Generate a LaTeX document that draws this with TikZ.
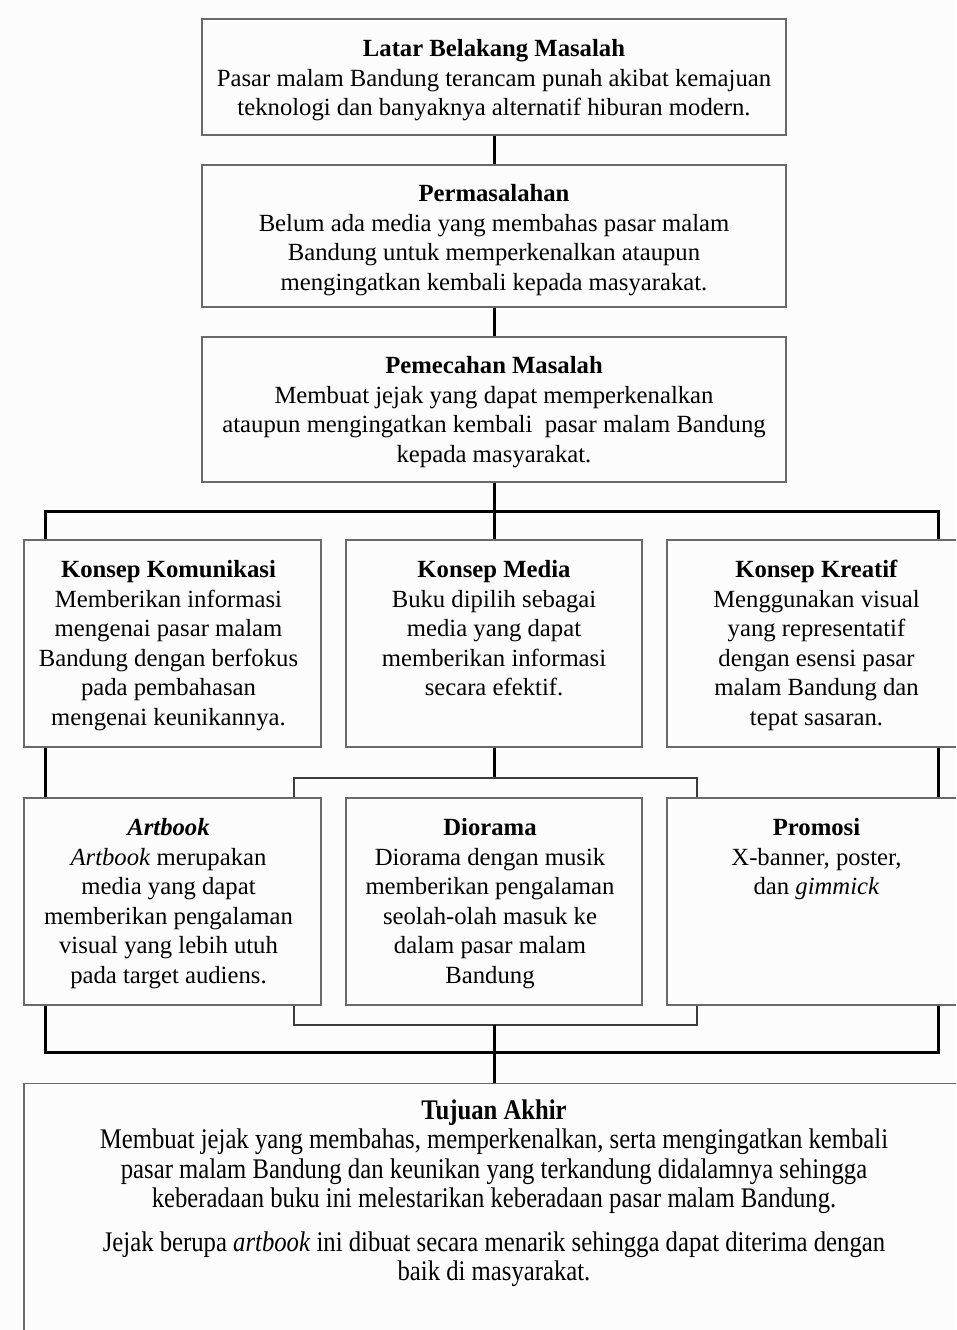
\documentclass[tikz,border=0pt]{standalone}
\usepackage{fontspec}
\setmainfont{Liberation Serif}
\begin{document}
\begin{tikzpicture}[x=1pt,y=-1pt,
  box/.style={draw=boxgray, line width=1.3pt, fill=bg, rectangle, inner sep=0pt},
  txt/.style={align=center, inner sep=0pt, anchor=north, text=black,
    font=\fontsize{24.7}{29.5}\selectfont},
  conn/.style={draw=black, line width=3pt, line join=miter},
  thinconn/.style={draw=linegray, line width=1.6pt, line join=miter}]
\definecolor{bg}{RGB}{252,252,252}
\definecolor{boxgray}{RGB}{105,105,105}
\definecolor{linegray}{RGB}{60,60,60}
\useasboundingbox (0,0) rectangle (956,1330);
\fill[bg] (0,0) rectangle (956,1330);
\clip (0,0) rectangle (956,1330);

% top column
\node[box, minimum width=584pt, minimum height=116pt] (b1) at (494,77) {};
\node[box, minimum width=584pt, minimum height=142pt] (b2) at (494,236) {};
\node[box, minimum width=584pt, minimum height=145pt] (b3) at (494,409.5) {};

% row of concepts
\node[box, minimum width=297pt, minimum height=207pt] (ka) at (172.5,643.5) {};
\node[box, minimum width=296pt, minimum height=207pt] (kb) at (494,643.5) {};
\node[box, minimum width=297pt, minimum height=207pt] (kc) at (815.5,643.5) {};

% row of outputs
\node[box, minimum width=297pt, minimum height=207pt] (ar) at (172.5,901.5) {};
\node[box, minimum width=296pt, minimum height=207pt] (di) at (494,901.5) {};
\node[box, minimum width=297pt, minimum height=207pt] (pr) at (815.5,901.5) {};

% final box (runs past the page)
\node[box, anchor=north, minimum width=940pt, minimum height=330pt] (tj) at (494,1083) {};

% texts
\node[txt] (t1) at ([yshift=-21pt]b1.north) {\textbf{Latar Belakang Masalah}\\Pasar malam Bandung terancam punah akibat kemajuan\\teknologi dan banyaknya alternatif hiburan modern.};
\node[txt] (t2) at ([yshift=-20pt]b2.north) {\textbf{Permasalahan}\\Belum ada media yang membahas pasar malam\\Bandung untuk memperkenalkan ataupun\\mengingatkan kembali kepada masyarakat.};
\node[txt] (t3) at ([yshift=-20pt]b3.north) {\textbf{Pemecahan Masalah}\\Membuat jejak yang dapat memperkenalkan\\ataupun mengingatkan kembali\ \ pasar malam Bandung\\kepada masyarakat.};

\node[txt] (tka) at ([xshift=-4pt,yshift=-21pt]ka.north) {\textbf{Konsep Komunikasi}\\Memberikan informasi\\mengenai pasar malam\\Bandung dengan berfokus\\pada pembahasan\\mengenai keunikannya.};
\node[txt] (tkb) at ([yshift=-21pt]kb.north) {\textbf{Konsep Media}\\Buku dipilih sebagai\\media yang dapat\\memberikan informasi\\secara efektif.};
\node[txt] (tkc) at ([xshift=1pt,yshift=-21pt]kc.north) {\textbf{Konsep Kreatif}\\Menggunakan visual\\yang representatif\\dengan esensi pasar\\malam Bandung dan\\tepat sasaran.};

\node[txt] (tar) at ([xshift=-4pt,yshift=-21pt]ar.north) {\textbf{\textit{Artbook}}\\\textit{Artbook} merupakan\\media yang dapat\\memberikan pengalaman\\visual yang lebih utuh\\pada target audiens.};
\node[txt] (tdi) at ([xshift=-4pt,yshift=-21pt]di.north) {\textbf{Diorama}\\Diorama dengan musik\\memberikan pengalaman\\seolah-olah masuk ke\\dalam pasar malam\\Bandung};
\node[txt] (tpr) at ([xshift=1pt,yshift=-21pt]pr.north) {\textbf{Promosi}\\X-banner, poster,\\dan \textit{gimmick}};

\node[txt, font=\fontsize{24.7}{25.4}\selectfont] (ttj) at ([yshift=-16pt]tj.north) {\scalebox{1}[1.15]{\begin{tabular}{@{}c@{}}\textbf{Tujuan Akhir}\\Membuat jejak yang membahas, memperkenalkan, serta mengingatkan kembali\\pasar malam Bandung dan keunikan yang terkandung didalamnya sehingga\\keberadaan buku ini melestarikan keberadaan pasar malam Bandung.\\[13pt]Jejak berupa \textit{artbook} ini dibuat secara menarik sehingga dapat diterima dengan\\baik di masyarakat.\end{tabular}}};

% connectors
\coordinate (hl) at (45,511);
\coordinate (hr) at (938,511);
\coordinate (ml) at (294,778);
\coordinate (mr) at (697,778);
\coordinate (bl) at (294,1025);
\coordinate (br) at (697,1025);
\coordinate (gl) at (45,1052);
\coordinate (gr) at (938,1052);

\draw[conn] (b1.south) -- (b2.north);
\draw[conn] (b2.south) -- (b3.north);
\draw[conn] (b3.south) -- (kb.north);
\draw[conn] (ka.north -| hl) -- (hl) -- (hr) -- (kc.north -| hr);
\draw[conn] (ka.south -| hl) -- (ar.north -| hl);
\draw[conn] (kc.south -| hr) -- (pr.north -| hr);
\draw[conn] (kb.south) -- (kb.south |- ml);
\draw[thinconn] (ar.north -| ml) -- (ml) -- (mr) -- (pr.north -| mr);
\draw[thinconn] (ar.south -| bl) -- (bl) -- (br) -- (pr.south -| br);
\draw[conn] (di.south |- bl) -- (tj.north);
\draw[conn] (ar.south -| gl) -- (gl) -- (gr) -- (pr.south -| gr);
\end{tikzpicture}
\end{document}
